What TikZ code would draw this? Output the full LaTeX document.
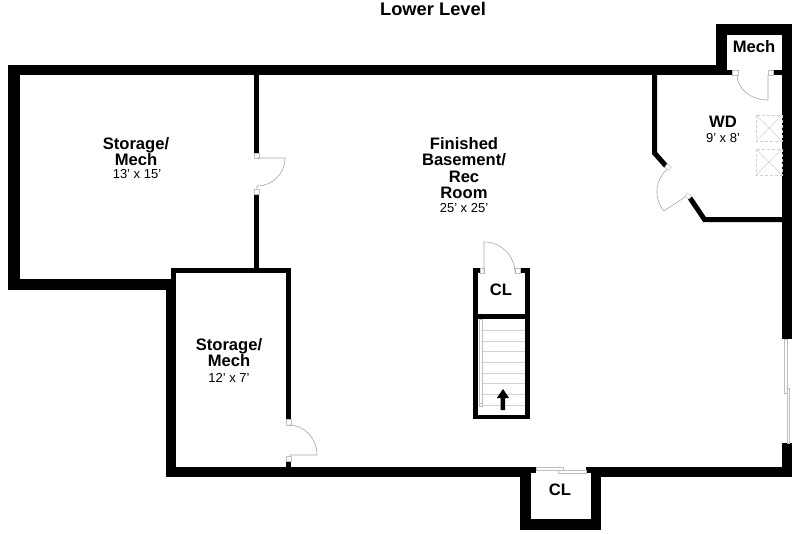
\documentclass[tikz,border=0pt]{standalone}
\usepackage{fontspec}
\setmainfont{Liberation Sans}
\tikzset{
  wall/.style={fill=black,draw=none},
  thinline/.style={draw=black!35,line width=0.6pt},
  hinge/.style={draw=black!25,fill=white,line width=0.5pt},
  fixture/.style={draw=black!18,line width=0.6pt},
  roomname/.style={font=\fontsize{16.6}{16.4}\selectfont\bfseries,align=center,inner sep=0pt},
  roomsize/.style={font=\fontsize{13}{13}\selectfont,inner sep=0pt},
}
\begin{document}
\begin{tikzpicture}[x=1pt,y=-1pt]
  \useasboundingbox (0,0) rectangle (800,533);
  % outer walls
  \fill[wall] (8,65) rectangle (727,75);
  \fill[wall] (8,65) rectangle (20,290);
  \fill[wall] (8,279) rectangle (176,290);
  \fill[wall] (166,279) rectangle (176,477);
  \fill[wall] (166,467) rectangle (536,477);
  \fill[wall] (586,467) rectangle (792,477);
  \fill[wall] (782,443) rectangle (792,477);
  \fill[wall] (782,24) rectangle (792,339);
  \fill[wall] (716,24) rectangle (792,35);
  \fill[wall] (716,24) rectangle (727,75);
  \fill[wall] (727,70) rectangle (732,75);
  \fill[wall] (773,70) rectangle (782,75);
  % closet at the bottom
  \fill[wall] (520,467) rectangle (531,530);
  \fill[wall] (591,467) rectangle (601,530);
  \fill[wall] (520,519) rectangle (601,530);
  \fill[wall] (531,467) rectangle (536,473);
  \fill[wall] (586,467) rectangle (591,473);
  \fill[white] (531,473) rectangle (591,477);
  \draw[hinge] (536,467.5) rectangle (563,470.5);
  \draw[hinge] (558,470.5) rectangle (586,473.5);
  % inner walls
  \fill[wall] (254,75) rectangle (259,153);
  \fill[wall] (254,194) rectangle (259,268);
  \fill[wall] (171,268) rectangle (291,273);
  \fill[wall] (171,268) rectangle (176,280);
  \fill[wall] (286,268) rectangle (291,419);
  \fill[wall] (286,461) rectangle (291,467);
  \draw[draw=black,line width=5pt] (654.5,75) -- (654.5,153) -- (666,166);
  \draw[draw=black,line width=5pt] (690,198) -- (704.5,219.5) -- (782,219.5);
  % doors
  \draw[hinge] (254.5,153) rectangle (259,158);
  \draw[hinge] (254.5,189) rectangle (259,194);
  \draw[thinline] (257,158) -- (285,158) arc[start angle=0,end angle=90,radius=28] -- (257,189);
  \draw[hinge] (286.5,419) rectangle (291,425);
  \draw[hinge] (286.5,456) rectangle (291,461);
  \draw[thinline] (289,425) arc[start angle=-90,end angle=0,x radius=28,y radius=30] -- (289,455);
  \draw[hinge] (732,70) rectangle (738,75);
  \draw[hinge] (768,70) rectangle (773,75);
  \draw[thinline] (768,75) -- (768,100) arc[start angle=90,end angle=180,x radius=31,y radius=25];
  \draw[thinline] (669,168) .. controls (655,178) and (653,198) .. (664,211) -- (688,195);
  \draw[hinge,rotate around={-35:(668,167)}] (665.5,165) rectangle (670.5,169);
  \draw[hinge,rotate around={-35:(688,196)}] (685.5,194) rectangle (690.5,198);
  % washer and dryer
  \foreach \ytop in {115,149} {
    \draw[fixture,densely dashed] (756,\ytop) rectangle (782,\ytop+26);
    \draw[fixture] (756,\ytop) -- (782,\ytop+26);
    \draw[fixture] (756,\ytop+26) -- (782,\ytop);
  }
  % stairs with closet
  \fill[wall] (473,268) rectangle (477.5,419);
  \fill[wall] (525,268) rectangle (530,419);
  \fill[wall] (473,415) rectangle (530,419);
  \fill[wall] (473,314) rectangle (530,319);
  \fill[wall] (473,268) rectangle (480,273);
  \fill[wall] (520,268) rectangle (530,273);
  \draw[hinge] (480,268.5) rectangle (484,273);
  \draw[hinge] (515,268.5) rectangle (520,273);
  \draw[thinline] (484,273) -- (484,242) arc[start angle=-90,end angle=0,x radius=31,y radius=31];
  \foreach \ystep in {330,341,351,362,373,383,394,405} {
    \draw[fixture] (482,\ystep) -- (525,\ystep);
  }
  \draw[hinge] (479.5,319) rectangle (482,405);
  \draw[hinge] (479.5,403) rectangle (482.5,406.5);
  \fill[wall] (500.7,410) -- (500.7,398) -- (496.8,398) -- (503,389) -- (509,398) -- (505.2,398) -- (505.2,410) -- cycle;
  % sliding door
  \draw[hinge] (784.7,339) rectangle (787.2,393);
  \draw[hinge] (787.2,388) rectangle (789.7,443);
  % labels
  \node[font=\fontsize{18.3}{18}\selectfont\bfseries,inner sep=0pt] (title) at (433,9) {Lower Level};
  \node[roomname] (storageA) at (136,151.5) {Storage/\\Mech};
  \node[roomsize] (storageAsize) at (137,174.2) {13' x 15'};
  \node[roomname] (basement) at (464,168.2) {Finished\\Basement/\\Rec\\Room};
  \node[roomsize] (basementsize) at (464,208.2) {25' x 25'};
  \node[roomname] (storageB) at (229,352.8) {Storage/\\Mech};
  \node[roomsize] (storageBsize) at (229,378) {12' x 7'};
  \node[roomname] (wd) at (723,122) {WD};
  \node[roomsize] (wdsize) at (723,138.5) {9' x 8'};
  \node[roomname] (mech) at (754,47) {Mech};
  \node[roomname] (clA) at (501,290) {CL};
  \node[roomname] (clB) at (560,490) {CL};
\end{tikzpicture}
\end{document}
